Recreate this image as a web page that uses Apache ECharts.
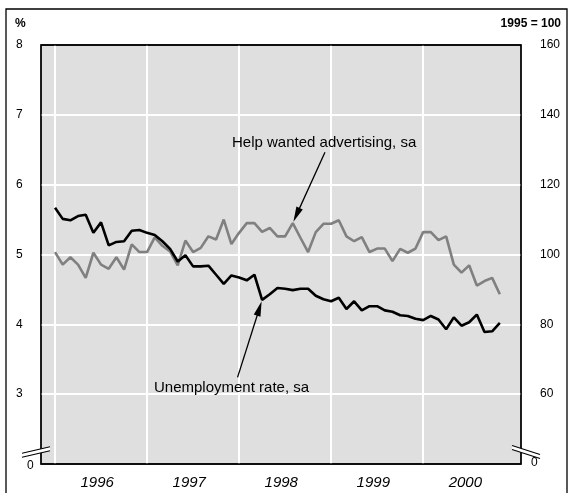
<!DOCTYPE html>
<html><head><meta charset="utf-8">
<script src="https://cdn.jsdelivr.net/npm/echarts@6/dist/echarts.min.js"></script>
<style>html,body{margin:0;padding:0;background:#fff}#c{width:568px;height:493px}</style>
</head><body><div id="c"></div>
<script>
// Monthly data, Jan 1996 .. Nov 2000 (index 0 = Jan 1996)
const yearLabels = ['1996', '1997', '1998', '1999', '2000'];
const leftTicks = [3, 4, 5, 6, 7, 8];           // %
const rightTicks = [60, 80, 100, 120, 140, 160]; // 1995 = 100
const unemploymentRate = [
  5.67, 5.51, 5.49, 5.55, 5.57, 5.31, 5.46, 5.13, 5.18, 5.19, 5.34, 5.35,
  5.31, 5.28, 5.19, 5.08, 4.90, 4.99, 4.83, 4.83, 4.84, 4.71, 4.58, 4.70,
  4.67, 4.63, 4.71, 4.35, 4.43, 4.52, 4.51, 4.49, 4.51, 4.51, 4.41, 4.36,
  4.33, 4.38, 4.22, 4.33, 4.20, 4.26, 4.26, 4.20, 4.18, 4.13, 4.12, 4.08,
  4.06, 4.12, 4.07, 3.93, 4.10, 3.98, 4.03, 4.14, 3.89, 3.90, 4.02
];
const helpWanted = [
  100.7, 97.1, 99.2, 97.1, 93.3, 100.5, 97.1, 95.9, 99.2, 95.7, 102.9, 100.7,
  100.7, 104.9, 102.5, 100.9, 96.9, 104.0, 100.7, 101.9, 105.2, 104.3, 110.0, 103.0,
  106.2, 109.0, 109.0, 106.5, 107.6, 105.2, 105.2, 109.0, 104.8, 100.7, 106.4, 108.8,
  108.8, 109.8, 105.2, 103.8, 105.0, 100.7, 101.7, 101.7, 98.1, 101.6, 100.5, 101.7,
  106.4, 106.4, 104.1, 105.2, 97.1, 94.8, 96.9, 91.1, 92.4, 93.3, 88.6
];
const yearStarts = [0, 12, 24, 36, 48];
// annotation anchors (data coords): label arrow start points and arrow targets
const helpArrowStart = [35.2, 129.3];
const helpArrowTarget = 31;
const unempArrowStart = [23.8, 3.24];
const unempArrowTarget = 27;

const FONT = '"Liberation Sans", Arial, Helvetica, sans-serif';
const xMin = -1.83, xMax = 60.76;

const chart = echarts.init(document.getElementById('c'), null, {renderer: 'canvas'});
const option = {
  animation: false,
  backgroundColor: '#fff',
  grid: {left: 41, top: 45, right: 47, bottom: 29, show: true,
         backgroundColor: '#dfdfdf', borderColor: '#000', borderWidth: 1.3},
  xAxis: {
    type: 'value', min: xMin, max: xMax,
    axisLine: {show: false}, axisTick: {show: false}, splitLine: {show: false},
    axisLabel: {
      customValues: yearLabels.map((y, i) => yearStarts[i] + 5.5),
      formatter: v => yearLabels[Math.round((v - 5.5) / 12)] || '',
      fontFamily: FONT, fontSize: 15, fontStyle: 'italic', color: '#000', margin: 11
    }
  },
  yAxis: [
    {type: 'value', min: 2, max: 8, interval: 1, position: 'left',
     axisLine: {show: false}, axisTick: {show: false},
     splitLine: {show: true, showMinLine: false, showMaxLine: false, lineStyle: {color: '#fff', width: 2}},
     axisLabel: {formatter: v => leftTicks.includes(v) ? String(v) : '',
                 fontFamily: FONT, fontSize: 12, color: '#000', align: 'left', margin: 25}},
    {type: 'value', min: 40, max: 160, interval: 20, position: 'right',
     axisLine: {show: false}, axisTick: {show: false}, splitLine: {show: false},
     axisLabel: {formatter: v => rightTicks.includes(v) ? String(v) : '',
                 fontFamily: FONT, fontSize: 12, color: '#000', align: 'left', margin: 19}}
  ],
  series: [
    {type: 'line', data: [], z: 1, silent: true,
     markLine: {silent: true, z: 1, symbol: ['none', 'none'], label: {show: false},
       lineStyle: {color: '#fff', width: 2, type: 'solid'},
       data: yearStarts.map(x => ({xAxis: x}))}},
    {name: 'Help wanted advertising, sa', type: 'line', yAxisIndex: 1, z: 3,
     data: helpWanted.map((v, i) => [i, v]), showSymbol: false,
     lineStyle: {color: '#808080', width: 2.6}},
    {name: 'Unemployment rate, sa', type: 'line', yAxisIndex: 0, z: 4,
     data: unemploymentRate.map((v, i) => [i, v]), showSymbol: false,
     lineStyle: {color: '#000', width: 2.6}}
  ]
};
chart.setOption(option);

const toPx = (yi, p) => chart.convertToPixel({xAxisIndex: 0, yAxisIndex: yi}, p);
function arrow(S, T, gap) {
  const dx = T[0] - S[0], dy = T[1] - S[1], L = Math.hypot(dx, dy);
  const ux = dx / L, uy = dy / L, nx = -uy, ny = ux;
  const tip = [T[0] - ux * gap, T[1] - uy * gap];
  const hl = 15, hw = 3.5;
  const B = [tip[0] - ux * hl, tip[1] - uy * hl];
  return [
    {type: 'line', shape: {x1: S[0], y1: S[1], x2: B[0] + ux * 2, y2: B[1] + uy * 2},
     style: {stroke: '#000', lineWidth: 1.3}, z: 10},
    {type: 'polygon', shape: {points: [tip, [B[0] + nx * hw, B[1] + ny * hw], [B[0] - nx * hw, B[1] - ny * hw]]},
     style: {fill: '#000'}, z: 10}
  ];
}
const bl = toPx(0, [xMin, 2]), br = toPx(0, [xMax, 2]), tr = toPx(0, [xMax, 8]);
const g = [];
// outer frame
g.push({type: 'rect', shape: {x: 6, y: 9, width: 561, height: 520}, style: {fill: 'none', stroke: '#000', lineWidth: 1.3}, z: 10});
// plot border
g.push({type: 'rect', shape: {x: bl[0], y: tr[1], width: br[0] - bl[0], height: bl[1] - tr[1]}, style: {fill: 'none', stroke: '#000', lineWidth: 1.3}, z: 9});
// unit labels
g.push({type: 'text', style: {text: '%', x: 15, y: 24, font: 'bold 12px ' + FONT, fill: '#000', verticalAlign: 'middle'}, z: 10});
g.push({type: 'text', style: {text: '1995 = 100', x: 561, y: 24, font: 'bold 12px ' + FONT, fill: '#000', align: 'right', verticalAlign: 'middle'}, z: 10});
// axis breaks
function brk(cx, cy, slope) {
  const hx = 14, off = 2;
  const p = (s) => [[cx - hx, cy + s - slope * hx], [cx + hx, cy + s + slope * hx]];
  const a = p(-off), b = p(off);
  return [
    {type: 'polygon', shape: {points: [a[0], a[1], b[1], b[0]]}, style: {fill: '#fff'}, z: 11},
    {type: 'line', shape: {x1: a[0][0], y1: a[0][1], x2: a[1][0], y2: a[1][1]}, style: {stroke: '#000', lineWidth: 1.2}, z: 12},
    {type: 'line', shape: {x1: b[0][0], y1: b[0][1], x2: b[1][0], y2: b[1][1]}, style: {stroke: '#000', lineWidth: 1.2}, z: 12}
  ];
}
g.push(...brk(bl[0] - 5, bl[1] - 12, -0.23));
g.push(...brk(br[0] + 5, br[1] - 12, 0.32));
g.push({type: 'text', style: {text: '0', x: bl[0] - 14, y: bl[1] + 2, font: '12px ' + FONT, fill: '#000', verticalAlign: 'middle'}, z: 10});
g.push({type: 'text', style: {text: '0', x: br[0] + 10, y: br[1] - 1, font: '12px ' + FONT, fill: '#000', verticalAlign: 'middle'}, z: 10});
// annotations
g.push({type: 'text', style: {text: 'Help wanted advertising, sa', x: 232, y: 143, font: '15px ' + FONT, fill: '#000', verticalAlign: 'middle'}, z: 10});
g.push({type: 'text', style: {text: 'Unemployment rate, sa', x: 154, y: 388, font: '15px ' + FONT, fill: '#000', verticalAlign: 'middle'}, z: 10});
g.push(...arrow(toPx(1, helpArrowStart), toPx(1, [helpArrowTarget, helpWanted[helpArrowTarget]]), 1.5));
g.push(...arrow(toPx(0, unempArrowStart), toPx(0, [unempArrowTarget, unemploymentRate[unempArrowTarget]]), 1.5));
chart.setOption({graphic: g});
</script></body></html>
